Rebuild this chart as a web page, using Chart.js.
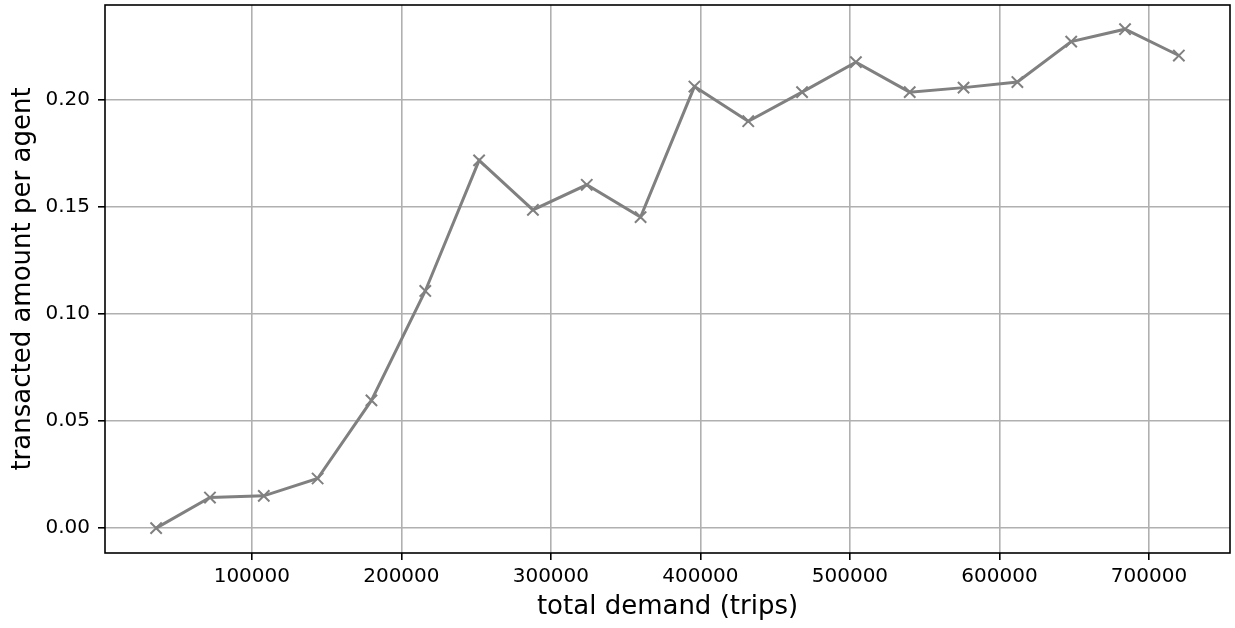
<!DOCTYPE html>
<html>
<head>
<meta charset="utf-8">
<script src="https://cdn.jsdelivr.net/npm/chart.js@4.4.1/dist/chart.umd.min.js"></script>
<style>
  html, body { margin: 0; padding: 0; background: #fff; }
  canvas { display: block; }
</style>
</head>
<body>
<canvas id="myChart" width="1235" height="628"></canvas>
<script>
// total demand (trips) on the x axis
const demand = [36000, 72000, 108000, 144000, 180000, 216000, 252000, 288000, 324000, 360000,
                396000, 432000, 468000, 504000, 540000, 576000, 612000, 648000, 684000, 720000];
// transacted amount per agent
const transacted = [0.000, 0.0143, 0.0151, 0.0232, 0.0597, 0.1108, 0.1718, 0.1487, 0.1604, 0.1453,
                    0.2063, 0.1901, 0.2037, 0.2177, 0.2037, 0.2058, 0.2084, 0.2273, 0.2331, 0.2208];
const xTicks = [100000, 200000, 300000, 400000, 500000, 600000, 700000];
const yTicks = [0.00, 0.05, 0.10, 0.15, 0.20];

const points = demand.map((d, i) => ({ x: d, y: transacted[i] }));

// matplotlib style box around the plot area
const framePlugin = {
  id: 'frame',
  afterDraw(chart) {
    const { ctx, chartArea: a } = chart;
    ctx.save();
    ctx.strokeStyle = '#000';
    ctx.lineWidth = 1.6;
    ctx.strokeRect(a.left, a.top, a.right - a.left, a.bottom - a.top);
    ctx.restore();
  }
};

// drop the extra room chart.js keeps for half a tick label at the ends
function noEdgePadding(axis) {
  axis.paddingTop = 0;
  axis.paddingBottom = 0;
  axis.paddingLeft = 0;
  axis.paddingRight = 0;
}

const tickFont = { family: 'DejaVu Sans', size: 20 };
const titleFont = { family: 'DejaVu Sans', size: 26 };

var ctx = document.getElementById('myChart');

var myChart = new Chart(ctx, {
  type: 'line',
  data: {
    datasets: [{
      label: 'transacted amount per agent',
      data: points,
      borderColor: '#808080',
      borderWidth: 3,
      tension: 0,
      fill: false,
      pointStyle: 'crossRot',
      pointRadius: 8,
      pointBorderWidth: 2,
      pointBorderColor: '#808080',
      pointBackgroundColor: '#808080'
    }]
  },
  options: {
    responsive: false,
    devicePixelRatio: 1,
    animation: false,
    layout: { autoPadding: false, padding: { top: 5, right: 5, left: 0, bottom: 0 } },
    plugins: {
      legend: { display: false },
      tooltip: { enabled: false }
    },
    scales: {
      x: {
        type: 'linear',
        min: 1800,
        max: 754200,
        afterBuildTicks: (axis) => { axis.ticks = xTicks.map(v => ({ value: v })); },
        afterFit: (axis) => { axis.height = 75; noEdgePadding(axis); },
        border: { display: false },
        grid: { color: '#b0b0b0', lineWidth: 1.6, tickLength: 7, tickColor: '#000', tickWidth: 1.6 },
        ticks: {
          color: '#000',
          font: tickFont,
          padding: 5,
          maxRotation: 0,
          callback: (v) => String(v)
        },
        title: {
          display: true,
          text: 'total demand (trips)',
          color: '#000',
          font: titleFont,
          padding: { top: 0, bottom: 5 }
        }
      },
      y: {
        min: -0.0116,
        max: 0.2444,
        afterBuildTicks: (axis) => { axis.ticks = yTicks.map(v => ({ value: v })); },
        afterFit: (axis) => { axis.width = 105; noEdgePadding(axis); },
        border: { display: false },
        grid: { color: '#b0b0b0', lineWidth: 1.6, tickLength: 7, tickColor: '#000', tickWidth: 1.6 },
        ticks: {
          color: '#000',
          font: tickFont,
          padding: 8,
          callback: (v) => v.toFixed(2)
        },
        title: {
          display: true,
          text: 'transacted amount per agent',
          color: '#000',
          font: titleFont,
          padding: { top: 8, bottom: 0 }
        }
      }
    }
  },
  plugins: [framePlugin]
});
</script>
</body>
</html>
